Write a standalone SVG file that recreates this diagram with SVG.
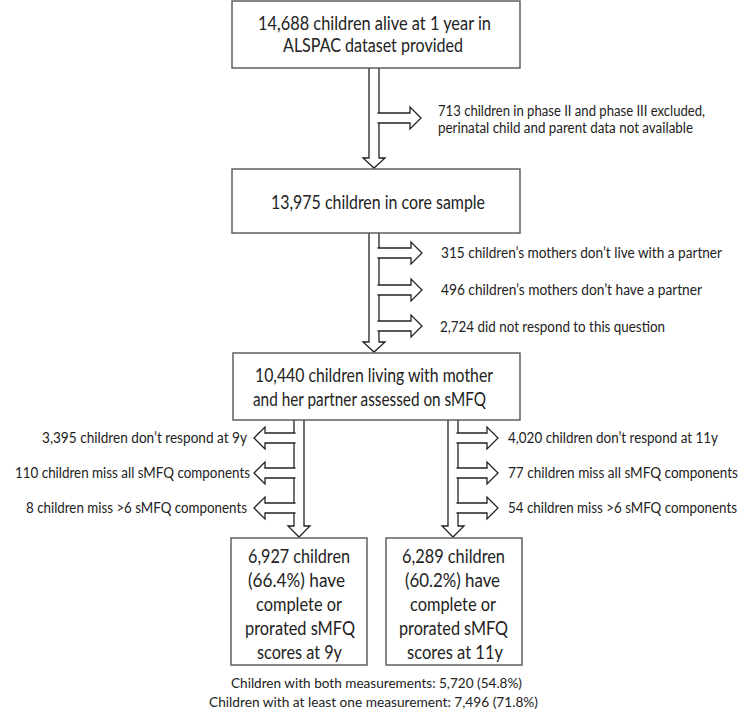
<svg xmlns="http://www.w3.org/2000/svg" width="750" height="726" viewBox="0 0 750 726">
<style>
.box{fill:#fff;stroke:#555;stroke-width:1.4}
.arr{fill:#fff;stroke:#222;stroke-width:1.3;stroke-linejoin:miter}
text{font-family:Lato,"Liberation Sans",sans-serif;fill:#222}
.bt{font-size:19.5px}
.st{font-size:14.5px}
.ft{font-size:14px}
</style>
<rect width="750" height="726" fill="#fff"/>
<g id="connectors">
<path class="arr" d="M369,68 V158 H363 L374,168 L385,158 H379 V68"/>
<path class="arr" d="M377.5,113 H410 V107 L421,118 L410,129 V123 H377.5"/>
<path class="arr" d="M369,233 V342 H363 L374,352 L385,342 H379 V233"/>
<path class="arr" d="M377.5,248 H411 V242 L422,253 L411,264 V258 H377.5"/>
<path class="arr" d="M377.5,285 H411 V279 L422,290 L411,301 V295 H377.5"/>
<path class="arr" d="M377.5,321 H411 V315 L422,326 L411,337 V331 H377.5"/>
<path class="arr" d="M294,420 V526 H288 L299,537 L310,526 H304 V420"/>
<path class="arr" d="M295.5,433 H265 V427 L254,438 L265,449 V443 H295.5"/>
<path class="arr" d="M295.5,468 H265 V462 L254,473 L265,484 V478 H295.5"/>
<path class="arr" d="M295.5,503 H265 V497 L254,508 L265,519 V513 H295.5"/>
<path class="arr" d="M448,420 V526 H442 L453,537 L464,526 H458 V420"/>
<path class="arr" d="M456.5,433 H487 V427 L498,438 L487,449 V443 H456.5"/>
<path class="arr" d="M456.5,468 H487 V462 L498,473 L487,484 V478 H456.5"/>
<path class="arr" d="M456.5,503 H487 V497 L498,508 L487,519 V513 H456.5"/>
</g>
<g id="n1">
<rect class="box" x="232" y="1" width="288" height="67"/>
<text class="bt" x="258" y="30" textLength="233" lengthAdjust="spacingAndGlyphs">14,688 children alive at 1 year in</text>
<text class="bt" x="283" y="52" textLength="180" lengthAdjust="spacingAndGlyphs">ALSPAC dataset provided</text>
</g>
<g id="e1">
<text class="st" x="438" y="116" textLength="267" lengthAdjust="spacingAndGlyphs">713 children in phase II and phase III excluded,</text>
<text class="st" x="438" y="133" textLength="255" lengthAdjust="spacingAndGlyphs">perinatal child and parent data not available</text>
</g>
<g id="n2">
<rect class="box" x="232" y="169" width="288" height="64"/>
<text class="bt" x="271" y="209" textLength="214" lengthAdjust="spacingAndGlyphs">13,975 children in core sample</text>
</g>
<g id="e2">
<text class="st" x="441" y="258" textLength="281" lengthAdjust="spacingAndGlyphs">315 children’s mothers don’t live with a partner</text>
<text class="st" x="441" y="295" textLength="261" lengthAdjust="spacingAndGlyphs">496 children’s mothers don’t have a partner</text>
<text class="st" x="440" y="332" textLength="225" lengthAdjust="spacingAndGlyphs">2,724 did not respond to this question</text>
</g>
<g id="n3">
<rect class="box" x="233" y="353" width="287" height="67"/>
<text class="bt" x="255" y="382" textLength="238" lengthAdjust="spacingAndGlyphs">10,440 children living with mother</text>
<text class="bt" x="253" y="406" textLength="233" lengthAdjust="spacingAndGlyphs">and her partner assessed on sMFQ</text>
</g>
<g id="e3">
<text class="st" x="42" y="443" textLength="205" lengthAdjust="spacingAndGlyphs">3,395 children don’t respond at 9y</text>
<text class="st" x="15" y="478" textLength="235" lengthAdjust="spacingAndGlyphs">110 children miss all sMFQ components</text>
<text class="st" x="26" y="513" textLength="221" lengthAdjust="spacingAndGlyphs">8 children miss &gt;6 sMFQ components</text>
</g>
<g id="e4">
<text class="st" x="508" y="443" textLength="210" lengthAdjust="spacingAndGlyphs">4,020 children don’t respond at 11y</text>
<text class="st" x="508" y="478" textLength="230" lengthAdjust="spacingAndGlyphs">77 children miss all sMFQ components</text>
<text class="st" x="508" y="513" textLength="229" lengthAdjust="spacingAndGlyphs">54 children miss &gt;6 sMFQ components</text>
</g>
<g id="n4">
<rect class="box" x="231" y="538" width="136" height="127"/>
<text class="bt" x="248" y="563" textLength="102" lengthAdjust="spacingAndGlyphs">6,927 children</text>
<text class="bt" x="248" y="587" textLength="97" lengthAdjust="spacingAndGlyphs">(66.4%) have</text>
<text class="bt" x="256" y="611" textLength="86" lengthAdjust="spacingAndGlyphs">complete or</text>
<text class="bt" x="245" y="635" textLength="110" lengthAdjust="spacingAndGlyphs">prorated sMFQ</text>
<text class="bt" x="257" y="659" textLength="85" lengthAdjust="spacingAndGlyphs">scores at 9y</text>
</g>
<g id="n5">
<rect class="box" x="386" y="538" width="136" height="127"/>
<text class="bt" x="402" y="563" textLength="103" lengthAdjust="spacingAndGlyphs">6,289 children</text>
<text class="bt" x="405" y="587" textLength="95" lengthAdjust="spacingAndGlyphs">(60.2%) have</text>
<text class="bt" x="410" y="611" textLength="86" lengthAdjust="spacingAndGlyphs">complete or</text>
<text class="bt" x="399" y="635" textLength="109" lengthAdjust="spacingAndGlyphs">prorated sMFQ</text>
<text class="bt" x="407" y="659" textLength="96" lengthAdjust="spacingAndGlyphs">scores at 11y</text>
</g>
<g id="summary">
<text class="ft" x="231" y="688" textLength="291" lengthAdjust="spacingAndGlyphs">Children with both measurements: 5,720 (54.8%)</text>
<text class="ft" x="209" y="707" textLength="329" lengthAdjust="spacingAndGlyphs">Children with at least one measurement: 7,496 (71.8%)</text>
</g>
</svg>
